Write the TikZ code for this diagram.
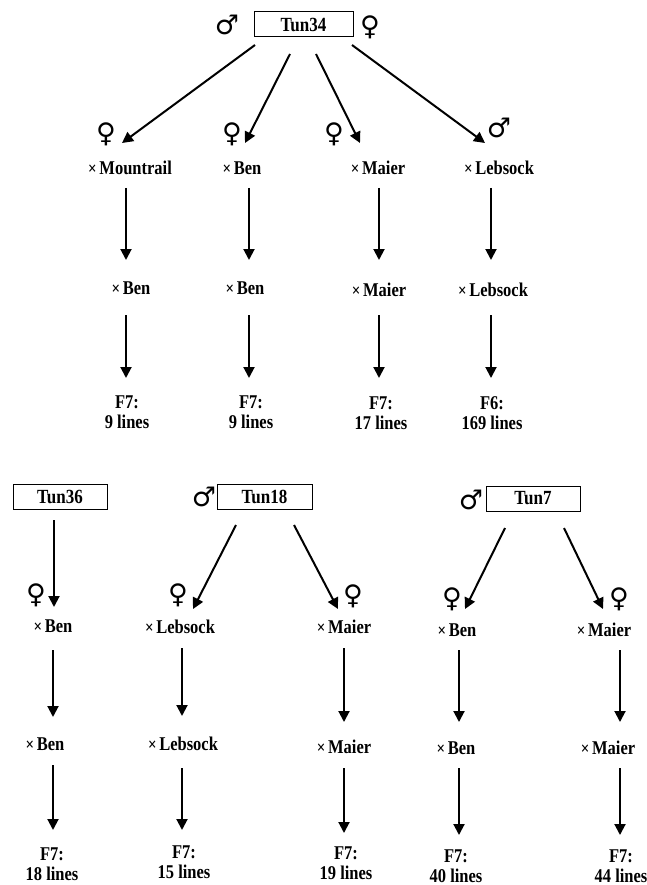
\documentclass[tikz,border=0pt]{standalone}
\usepackage{fontspec}
\usepackage{graphicx}
\setmainfont{Liberation Serif}
\newfontfamily\symfont{DejaVu Sans}
\usetikzlibrary{arrows.meta}
\newcommand{\T}[1]{\scalebox{1}[1.18]{#1}}
\tikzset{
  lbl/.style={font=\fontsize{16.5}{19.5}\selectfont\bfseries, inner sep=0pt, align=center},
  tunbox/.style={draw, line width=1pt, minimum height=25pt, inner sep=0pt, font=\fontsize{17}{19}\selectfont\bfseries},
  sym/.style={font=\symfont\fontsize{27}{27}\selectfont, inner sep=0pt},
  arr/.style={line width=2pt, -{Triangle[length=11pt,width=11pt]}}
}
\newcommand{\xx}{{\fontsize{15}{15}\selectfont ×}\,}
\begin{document}
\begin{tikzpicture}[x=1pt,y=-1pt]
\useasboundingbox (0,0) rectangle (647,885);
% ---------- top: Tun34 ----------
\node[tunbox, minimum width=99pt] (t34) at (303.5,24.5) {\T{Tun34}};
\node[sym] (m34) at (227,25) {♂};
\node[sym] (f34) at (370,27) {♀};
\coordinate (a1s) at (255,45); \coordinate (a1e) at (122,143);
\coordinate (a2s) at (290,54); \coordinate (a2e) at (245,143);
\coordinate (a3s) at (316,54); \coordinate (a3e) at (360,143);
\coordinate (a4s) at (352,45); \coordinate (a4e) at (485,143);
\draw[arr] (a1s) -- (a1e);
\draw[arr] (a2s) -- (a2e);
\draw[arr] (a3s) -- (a3e);
\draw[arr] (a4s) -- (a4e);
\node[sym] (s1) at (106,134) {♀};
\node[sym] (s2) at (232,134) {♀};
\node[sym] (s3) at (334,134) {♀};
\node[sym] (s4) at (499,128) {♂};
\node[lbl] (r1a) at (130,168) {\T{\xx Mountrail}};
\node[lbl] (r1b) at (242,168) {\T{\xx Ben}};
\node[lbl] (r1c) at (378,168) {\T{\xx Maier}};
\node[lbl] (r1d) at (499,168) {\T{\xx Lebsock}};
\foreach \n/\x in {1/126,2/249,3/379,4/491}{
  \coordinate (v1s\n) at (\x,188); \coordinate (v1e\n) at (\x,260);
  \draw[arr] (v1s\n) -- (v1e\n);
  \coordinate (v2s\n) at (\x,315); \coordinate (v2e\n) at (\x,378);
  \draw[arr] (v2s\n) -- (v2e\n);
}
\node[lbl] (r2a) at (131,288) {\T{\xx Ben}};
\node[lbl] (r2b) at (245,288) {\T{\xx Ben}};
\node[lbl] (r2c) at (379,290) {\T{\xx Maier}};
\node[lbl] (r2d) at (493,290) {\T{\xx Lebsock}};
\node[lbl] (r3a) at (127,412) {\T{F7:}\\\T{9 lines}};
\node[lbl] (r3b) at (251,412) {\T{F7:}\\\T{9 lines}};
\node[lbl] (r3c) at (381,413) {\T{F7:}\\\T{17 lines}};
\node[lbl] (r3d) at (492,413) {\T{F6:}\\\T{169 lines}};
% ---------- bottom ----------
\node[tunbox, minimum width=94pt] (t36) at (60,496.5) {\T{Tun36}};
\node[tunbox, minimum width=95pt] (t18) at (264.5,496.5) {\T{Tun18}};
\node[sym] (m18) at (204,497) {♂};
\node[tunbox, minimum width=94pt] (t7) at (533,498.5) {\T{Tun7}};
\node[sym] (m7) at (471,500) {♂};
\coordinate (b1s) at (54,520); \coordinate (b1e) at (54,607);
\coordinate (b2s) at (236,525); \coordinate (b2e) at (193,609);
\coordinate (b3s) at (294,525); \coordinate (b3e) at (338,609);
\coordinate (b4s) at (505,528); \coordinate (b4e) at (465,609);
\coordinate (b5s) at (564,528); \coordinate (b5e) at (603,609);
\draw[arr] (b1s) -- (b1e);
\draw[arr] (b2s) -- (b2e);
\draw[arr] (b3s) -- (b3e);
\draw[arr] (b4s) -- (b4e);
\draw[arr] (b5s) -- (b5e);
\node[sym] (q1) at (36,595) {♀};
\node[sym] (q2) at (178,595) {♀};
\node[sym] (q3) at (353,596) {♀};
\node[sym] (q4) at (452,599) {♀};
\node[sym] (q5) at (619,599) {♀};
\node[lbl] (u1a) at (53,626) {\T{\xx Ben}};
\node[lbl] (u1b) at (180,627) {\T{\xx Lebsock}};
\node[lbl] (u1c) at (344,627) {\T{\xx Maier}};
\node[lbl] (u1d) at (457,630) {\T{\xx Ben}};
\node[lbl] (u1e) at (604,630) {\T{\xx Maier}};
\foreach \n/\x/\ya/\yb/\yc/\yd in {1/53/650/717/765/830,2/182/648/716/768/830,3/344/648/722/768/833,4/459/650/722/768/835,5/620/650/722/768/835}{
  \coordinate (w1s\n) at (\x,\ya); \coordinate (w1e\n) at (\x,\yb);
  \draw[arr] (w1s\n) -- (w1e\n);
  \coordinate (w2s\n) at (\x,\yc); \coordinate (w2e\n) at (\x,\yd);
  \draw[arr] (w2s\n) -- (w2e\n);
}
\node[lbl] (u2a) at (45,744) {\T{\xx Ben}};
\node[lbl] (u2b) at (183,744) {\T{\xx Lebsock}};
\node[lbl] (u2c) at (344,747) {\T{\xx Maier}};
\node[lbl] (u2d) at (456,748) {\T{\xx Ben}};
\node[lbl] (u2e) at (608,748) {\T{\xx Maier}};
\node[lbl] (u3a) at (52,864) {\T{F7:}\\\T{18 lines}};
\node[lbl] (u3b) at (184,862) {\T{F7:}\\\T{15 lines}};
\node[lbl] (u3c) at (346,863) {\T{F7:}\\\T{19 lines}};
\node[lbl] (u3d) at (456,866) {\T{F7:}\\\T{40 lines}};
\node[lbl] (u3e) at (621,866) {\T{F7:}\\\T{44 lines}};
\end{tikzpicture}
\end{document}
